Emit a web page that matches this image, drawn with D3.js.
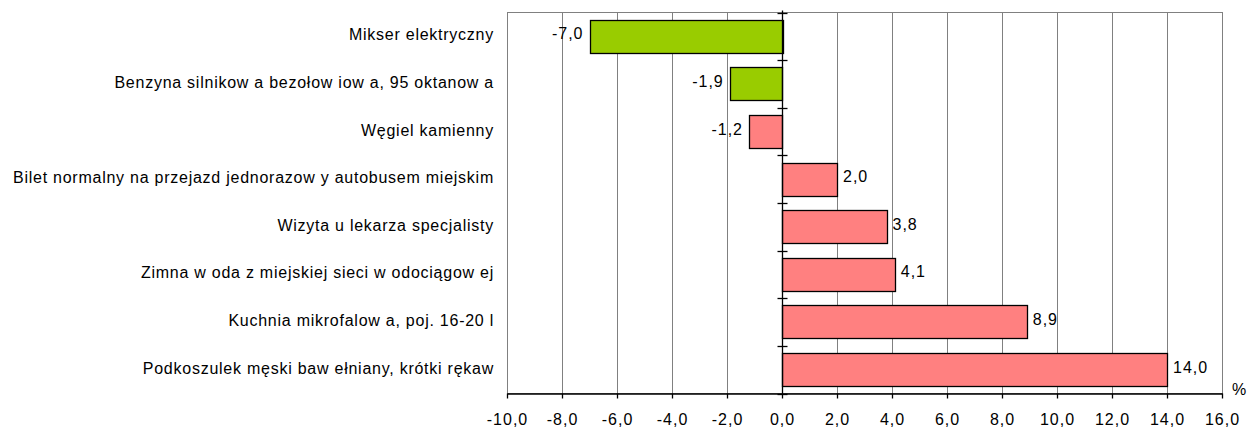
<!DOCTYPE html>
<html><head><meta charset="utf-8">
<script src="https://cdn.jsdelivr.net/npm/d3@7"></script>
<style>body{margin:0;background:#fff}svg{display:block}text{font-family:"Liberation Sans",Arial,sans-serif;fill:#000;letter-spacing:1px}text.cat{letter-spacing:0.75px}</style>
</head><body>
<svg id="c" width="1247" height="428"></svg>
<script>
const categories = ["Mikser elektryczny","Benzyna silnikow a bezołow iow a, 95 oktanow a","Węgiel kamienny","Bilet normalny na przejazd jednorazow y autobusem miejskim","Wizyta u lekarza specjalisty","Zimna w oda z miejskiej sieci w odociągow ej","Kuchnia mikrofalow a, poj. 16-20 l","Podkoszulek męski baw ełniany, krótki rękaw"];
const values = [-7.0,-1.9,-1.2,2.0,3.8,4.1,8.9,14.0];
const barColors = ["#99CC00","#99CC00","#FF8080","#FF8080","#FF8080","#FF8080","#FF8080","#FF8080"];
const xTicks = [-10,-8,-6,-4,-2,0,2,4,6,8,10,12,14,16];
const unitLabel = "%";

const svg = d3.select("#c");
const L = 507, R = 1222, T = 12.5, B = 393.5;
const FS = 16;
const x = d3.scaleLinear().domain([-10,16]).range([L,R]);
const y = d3.scaleBand().domain(categories).range([T,B]).paddingInner(0.3).paddingOuter(0.15);
const fmt = v => v.toFixed(1).replace(".",",");

// grid
svg.append("g").selectAll("line").data(xTicks).join("line")
  .attr("x1",d=>Math.round(x(d))+0.5).attr("x2",d=>Math.round(x(d))+0.5)
  .attr("y1",T).attr("y2",B).attr("stroke","#808080").attr("stroke-width",1);
svg.append("rect").attr("x",L+0.5).attr("y",T).attr("width",R-L).attr("height",B-T)
  .attr("fill","none").attr("stroke","#808080");

// bars
svg.append("g").selectAll("rect").data(values).join("rect")
  .attr("x",d=>Math.round(x(Math.min(0,d)))+0.5)
  .attr("width",d=>Math.round(Math.abs(x(d)-x(0))))
  .attr("y",(d,i)=>Math.round(y(categories[i]))+0.5)
  .attr("height",Math.round(y.bandwidth()))
  .attr("fill",(d,i)=>barColors[i]).attr("stroke","#000").attr("stroke-width",1.3);

// value labels
svg.append("g").selectAll("text").data(values).join("text")
  .attr("x",d=>d<0? x(d)-6 : x(d)+6)
  .attr("y",(d,i)=>y(categories[i])+y.bandwidth()/2+3)
  .attr("text-anchor",d=>d<0?"end":"start")
  .attr("font-size",FS).text(fmt);

// zero axis with ticks
const x0 = Math.round(x(0))+0.5;
svg.append("line").attr("x1",x0).attr("x2",x0).attr("y1",T-2).attr("y2",B).attr("stroke","#000").attr("stroke-width",1.3);
const bounds = d3.range(categories.length+1).map(i=>T+i*(B-T)/categories.length);
svg.append("g").selectAll("line").data(bounds).join("line")
  .attr("x1",x0-5).attr("x2",x0+5).attr("y1",d=>Math.round(d)+0.5).attr("y2",d=>Math.round(d)+0.5)
  .attr("stroke","#000").attr("stroke-width",1.3);

// bottom axis
const xa = svg.append("g").attr("transform",`translate(0,${B})`)
  .call(d3.axisBottom(x).tickValues(xTicks).tickSize(5).tickSizeOuter(0).tickFormat(fmt));
xa.select(".domain").attr("stroke","#000").attr("stroke-width",1.3);
xa.selectAll(".tick line").attr("stroke","#000").attr("stroke-width",1.3);
xa.selectAll(".tick text").attr("font-size",FS).attr("font-family",null)
  .attr("y",31).attr("dy",null);

// category labels
svg.append("g").selectAll("text").data(categories).join("text")
  .attr("class","cat")
  .attr("x",494).attr("y",d=>y(d)+y.bandwidth()/2+4)
  .attr("text-anchor","end")
  .attr("font-size",FS).text(d=>d);

svg.append("text").attr("x",1232).attr("y",395).attr("font-size",FS).text(unitLabel);
</script>
</body></html>
